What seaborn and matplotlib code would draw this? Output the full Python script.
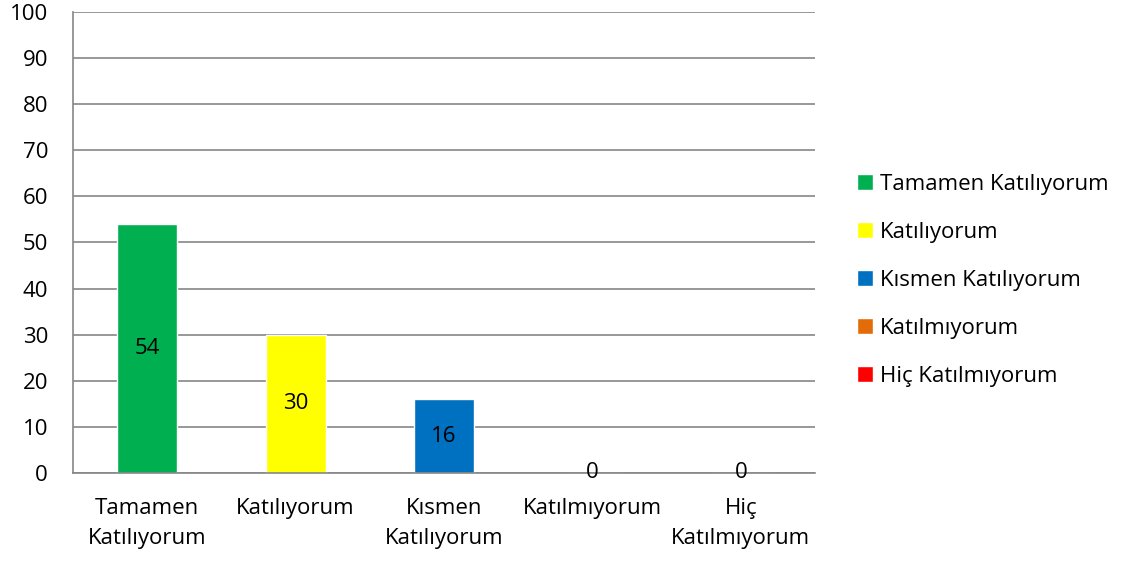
import numpy as np
import matplotlib
matplotlib.use("Agg")
import matplotlib.pyplot as plt
import seaborn as sns

# ---------------------------------------------------------------------------
# Veri
# ---------------------------------------------------------------------------
categories = ["Tamamen Katılıyorum", "Katılıyorum", "Kısmen Katılıyorum",
              "Katılmıyorum", "Hiç Katılmıyorum"]
tick_labels = ["Tamamen\nKatılıyorum", "Katılıyorum", "Kısmen\nKatılıyorum",
               "Katılmıyorum", "Hiç\nKatılmıyorum"]
values = [54, 30, 16, 0, 0]
colors = ["#00B050", "#FFFF00", "#0070C0", "#E36C09", "#FF0000"]

sns.set_style("white")
plt.rcParams["font.family"] = ["Open Sans", "DejaVu Sans"]
plt.rcParams["text.color"] = "black"
plt.rcParams["xtick.labelcolor"] = "black"
plt.rcParams["ytick.labelcolor"] = "black"
FS = 16

fig = plt.figure(figsize=(11.26, 5.63), dpi=100)
ax = fig.add_axes([73 / 1126, 1 - 473 / 563, (815 - 73) / 1126, (473 - 12) / 563])

sns.barplot(x=categories, y=values, hue=categories, palette=colors,
            width=0.405, dodge=False, saturation=1, legend=True, ax=ax)

# değer etiketleri (çubuğun ortasında)
for i, v in enumerate(values):
    ax.text(i, v / 2, f"{v}", ha="center", va="center", fontsize=FS, color="black")

ax.set_xlim(-0.5, 4.5)
ax.set_ylim(0, 100)
ax.set_yticks(np.arange(0, 101, 10))
ax.yaxis.grid(True, color="#868686", linewidth=1.2)
ax.set_axisbelow(True)
for s in ["top", "right"]:
    ax.spines[s].set_visible(False)
for s in ["left", "bottom"]:
    ax.spines[s].set_color("#868686")
    ax.spines[s].set_linewidth(1.2)

ax.set_xticks(range(len(categories)))
ax.set_xticklabels(tick_labels, fontsize=FS, linespacing=1.55)
ax.set_xticks(np.arange(-0.5, 5, 1), minor=True)
ax.tick_params(axis="x", which="major", length=0, pad=18)
ax.tick_params(axis="x", which="minor", length=7, width=1.2, color="#868686", direction="out")
ax.tick_params(axis="y", length=7, width=1.2, color="#868686", direction="out",
               labelsize=FS, pad=11)
ax.set_xlabel("")
ax.set_ylabel("")

handles, labels = ax.get_legend_handles_labels()
ax.legend(handles, labels, loc="center left", bbox_to_anchor=(1.045, 0.418),
          frameon=False, fontsize=FS, handlelength=0.7, handleheight=0.7,
          handletextpad=0.3, labelspacing=1.22, borderaxespad=0)

fig.savefig("out.png", dpi=100)
